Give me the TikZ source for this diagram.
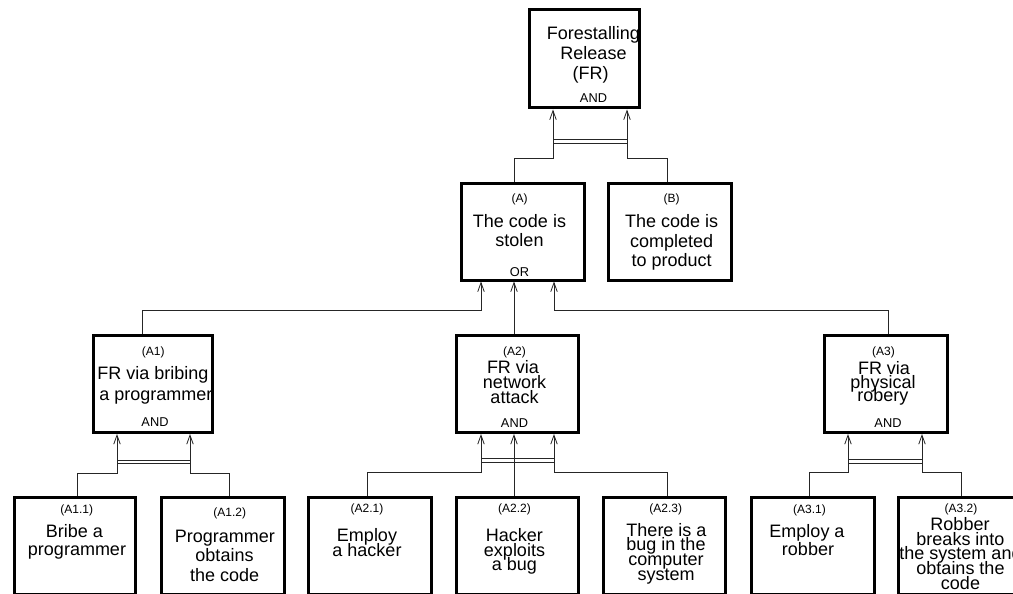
\documentclass[tikz,border=0pt]{standalone}
\usepackage{fontspec}
\setmainfont{Liberation Sans}
\usetikzlibrary{arrows.meta}
\begin{document}
\begin{tikzpicture}[x=1pt,y=-1pt,
  box/.style={draw=black, line width=3pt, rectangle, inner sep=0pt},
  conn/.style={draw=black!85, line width=0.8pt},
  arr/.style={conn, -{Straight Barb[length=9pt,width=6.5pt]}},
  tx/.style={anchor=base, inner sep=0pt, font=\fontsize{18}{20}\selectfont},
  lab/.style={anchor=base, inner sep=0pt, font=\fontsize{12}{14}\selectfont},
  op/.style={anchor=base, inner sep=0pt, font=\fontsize{12.8}{14}\selectfont}]
\useasboundingbox (0,0) rectangle (1013,594);
\clip (0,0) rectangle (1013,594);
\fill[white] (0,0) rectangle (1013,594);

% ---------- boxes ----------
\node[box, minimum width=109.5pt, minimum height=98pt] (fr) at (584.25,59) {};
\node[box, minimum width=123.5pt, minimum height=96.5pt] (a) at (522.75,231.75) {};
\node[box, minimum width=122.5pt, minimum height=96.5pt] (b) at (669.75,231.75) {};
\node[box, minimum width=119pt, minimum height=97.5pt] (a1) at (153,383.75) {};
\node[box, minimum width=122.5pt, minimum height=97.5pt] (a2) at (517.25,383.75) {};
\node[box, minimum width=123pt, minimum height=97.5pt] (a3) at (886,383.75) {};
\node[box, minimum width=121.5pt, minimum height=97pt] (a11) at (74.75,545.5) {};
\node[box, minimum width=123pt, minimum height=97pt] (a12) at (223,545.5) {};
\node[box, minimum width=122.5pt, minimum height=97pt] (a21) at (369.75,545.5) {};
\node[box, minimum width=122pt, minimum height=97pt] (a22) at (517.5,545.5) {};
\node[box, minimum width=121.5pt, minimum height=97pt] (a23) at (664.25,545.5) {};
\node[box, minimum width=122.5pt, minimum height=97pt] (a31) at (812.75,545.5) {};
\node[box, minimum width=123pt, minimum height=97pt] (a32) at (960,545.5) {};

% ---------- texts ----------
\node[tx] (fr-1) at (593.5,39.3) {Forestalling};
\node[tx] (fr-2) at (593.5,59.3) {Release};
\node[tx] (fr-3) at (590.5,80) {(FR)};
\node[op] (fr-op) at (593.5,102.7) {AND};

\node[lab] (a-l) at (519.5,202.7) {(A)};
\node[tx] (a-1) at (519.5,227.7) {The code is};
\node[tx] (a-2) at (519.5,246.7) {stolen};
\node[op] (a-op) at (519.5,276) {OR};

\node[lab] (b-l) at (671.7,202.7) {(B)};
\node[tx] (b-1) at (671.7,227.7) {The code is};
\node[tx] (b-2) at (671.7,247.3) {completed};
\node[tx] (b-3) at (671.7,266) {to product};

\node[lab] (a1-l) at (153.3,355) {(A1)};
\node[tx] (a1-1) at (153,379) {FR via bribing};
\node[tx] (a1-2) at (155.8,400) {a programmer};
\node[op] (a1-op) at (155,426.7) {AND};

\node[lab] (a2-l) at (514.5,355) {(A2)};
\node[tx] (a2-1) at (513,373.3) {FR via};
\node[tx] (a2-2) at (514.5,388.3) {network};
\node[tx] (a2-3) at (514.5,403.3) {attack};
\node[op] (a2-op) at (514.5,427.3) {AND};

\node[lab] (a3-l) at (883.5,355) {(A3)};
\node[tx] (a3-1) at (884,374) {FR via};
\node[tx] (a3-2) at (883,388.3) {physical};
\node[tx] (a3-3) at (882.8,401.7) {robery};
\node[op] (a3-op) at (888,427.3) {AND};

\node[lab] (a11-l) at (76.8,513.3) {(A1.1)};
\node[tx] (a11-1) at (74.5,537.3) {Bribe a};
\node[tx] (a11-2) at (77,555) {programmer};

\node[lab] (a12-l) at (229.8,516.7) {(A1.2)};
\node[tx] (a12-1) at (224.8,542.7) {Programmer};
\node[tx] (a12-2) at (224.5,561.7) {obtains};
\node[tx] (a12-3) at (224.7,581.7) {the code};

\node[lab] (a21-l) at (367,512.7) {(A2.1)};
\node[tx] (a21-1) at (367,541.7) {Employ};
\node[tx] (a21-2) at (367,556) {a hacker};

\node[lab] (a22-l) at (514.5,512.7) {(A2.2)};
\node[tx] (a22-1) at (514.3,541.7) {Hacker};
\node[tx] (a22-2) at (514.5,556) {exploits};
\node[tx] (a22-3) at (514.5,570) {a bug};

\node[lab] (a23-l) at (665.8,512.7) {(A2.3)};
\node[tx] (a23-1) at (666.5,536.7) {There is a};
\node[tx] (a23-2) at (666,550) {bug in the};
\node[tx] (a23-3) at (666,565) {computer};
\node[tx] (a23-4) at (666,580) {system};

\node[lab] (a31-l) at (809.5,513.3) {(A3.1)};
\node[tx] (a31-1) at (807,537.3) {Employ a};
\node[tx] (a31-2) at (808,555) {robber};

\node[lab] (a32-l) at (961,512.3) {(A3.2)};
\node[tx] (a32-1) at (960,530.7) {Robber};
\node[tx] (a32-2) at (960.5,545) {breaks into};
\node[tx] (a32-3) at (960.5,559) {the system and};
\node[tx] (a32-4) at (960.5,574) {obtains the};
\node[tx] (a32-5) at (960.5,589) {code};

% ---------- junction points ----------
\coordinate (jfr-l) at (553,158);
\coordinate (jfr-r) at (627,158);
\coordinate (ja-l) at (481,310);
\coordinate (ja-r) at (554,310);
\coordinate (ja1-l) at (117,473);
\coordinate (ja1-r) at (190,473);
\coordinate (ja2-l) at (481,472);
\coordinate (ja2-r) at (554,472);
\coordinate (ja3-l) at (848,472);
\coordinate (ja3-r) at (922,472);

% ---------- connectors ----------
% FR (AND)
\draw[arr] ([xshift=-8.75pt]a.north) |- (jfr-l) -- (jfr-l |- fr.south);
\draw[arr] ([xshift=-2.75pt]b.north) |- (jfr-r) -- (jfr-r |- fr.south);
\draw[conn] ([yshift=19pt]jfr-l) -- ([yshift=19pt]jfr-r);
\draw[conn] ([yshift=15pt]jfr-l) -- ([yshift=15pt]jfr-r);

% A (OR)
\draw[arr] ([xshift=-11pt]a1.north) |- (ja-l) -- (ja-l |- a.south);
\draw[arr] ([xshift=-3.25pt]a2.north) -- ([xshift=-3.25pt]a2.north |- a.south);
\draw[arr] ([xshift=2pt]a3.north) |- (ja-r) -- (ja-r |- a.south);

% A1 (AND)
\draw[arr] ([xshift=2.25pt]a11.north) |- (ja1-l) -- (ja1-l |- a1.south);
\draw[arr] ([xshift=6pt]a12.north) |- (ja1-r) -- (ja1-r |- a1.south);
\draw[conn] ([yshift=13pt]ja1-l) -- ([yshift=13pt]ja1-r);
\draw[conn] ([yshift=10pt]ja1-l) -- ([yshift=10pt]ja1-r);

% A2 (AND)
\draw[arr] ([xshift=-2.75pt]a21.north) |- (ja2-l) -- (ja2-l |- a2.south);
\draw[arr] ([xshift=-3.5pt]a22.north) -- ([xshift=-3.5pt]a22.north |- a2.south);
\draw[arr] ([xshift=2.75pt]a23.north) |- (ja2-r) -- (ja2-r |- a2.south);
\draw[conn] ([yshift=14pt]ja2-l) -- ([yshift=14pt]ja2-r);
\draw[conn] ([yshift=10pt]ja2-l) -- ([yshift=10pt]ja2-r);

% A3 (AND)
\draw[arr] ([xshift=-3.75pt]a31.north) |- (ja3-l) -- (ja3-l |- a3.south);
\draw[arr] ([xshift=1pt]a32.north) |- (ja3-r) -- (ja3-r |- a3.south);
\draw[conn] ([yshift=13pt]ja3-l) -- ([yshift=13pt]ja3-r);
\draw[conn] ([yshift=9pt]ja3-l) -- ([yshift=9pt]ja3-r);
\end{tikzpicture}
\end{document}
